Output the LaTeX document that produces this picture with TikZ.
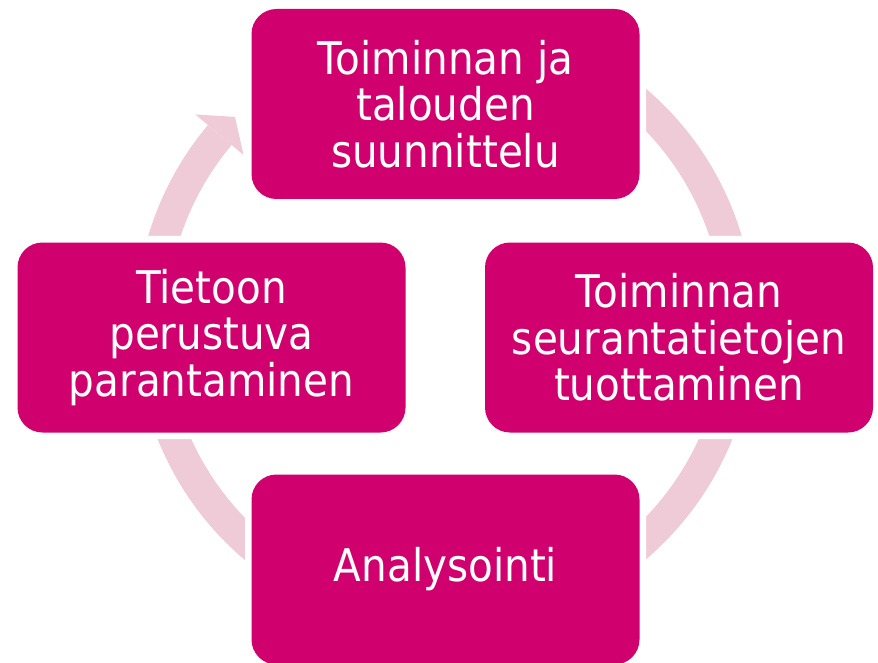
\documentclass[tikz,border=0pt]{standalone}
\usepackage{fontspec}
\setmainfont{DejaVu Sans}[FakeStretch=0.9]
\usetikzlibrary{calc}
\definecolor{vaihevari}{RGB}{208,0,111}
\definecolor{rengasvari}{RGB}{239,203,215}

\begin{document}
\begin{tikzpicture}[x=1pt, y=1pt,
        vaihe/.style={rectangle, rounded corners=25pt, fill=vaihevari, text=white,
            preaction={draw=white, line width=13pt},
            minimum width=388pt, minimum height=190pt, align=center,
            font=\fontsize{45}{46.7}\selectfont}]
        \useasboundingbox (0,0) rectangle (878,-663);
        \coordinate (c) at (445,-324);

        % Kehä
        \draw[line width=31pt, rengasvari] ($(c)+(140:294)$) arc[start angle=140, end angle=450, radius=294];
        % Nuolen kärki
        \fill[rengasvari, shift={(c)}] (140:326) -- (135.4:295) -- (140:263) -- cycle;

        % Vaiheet
        \node[vaihe] (suunnittelu) at (445.5,-104) {Toiminnan ja\\talouden\\suunnittelu};
        \node[vaihe] (seuranta) at (679,-337.5) {Toiminnan\\seurantatietojen\\tuottaminen};
        \node[vaihe] (analysointi) at (445.5,-569.5) {Analysointi};
        \node[vaihe] (parantaminen) at (211.5,-337.5) {Tietoon\\perustuva\\parantaminen};
    \end{tikzpicture}
\end{document}
